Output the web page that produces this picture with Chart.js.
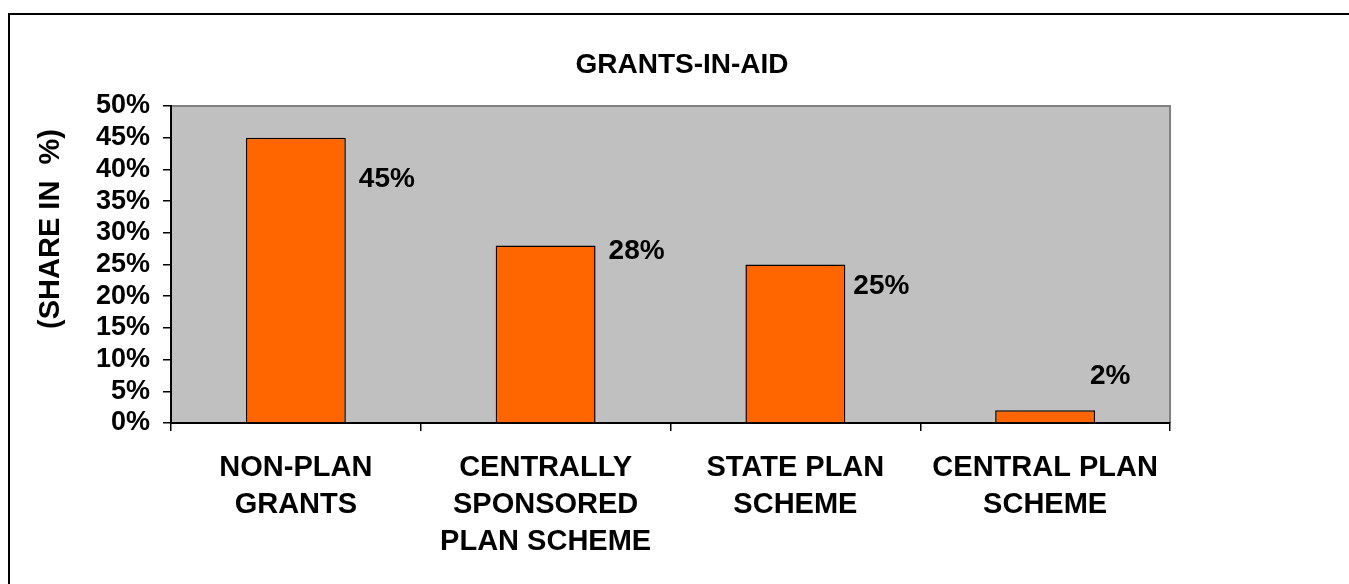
<!DOCTYPE html>
<html>
<head>
<meta charset="utf-8">
<script src="https://cdn.jsdelivr.net/npm/chart.js@4"></script>
<style>
  html, body { margin: 0; padding: 0; background: #fff; }
  #wrap { width: 1349px; height: 584px; }
</style>
</head>
<body>
<div id="wrap"><canvas id="myChart" width="1349" height="584"></canvas></div>
<script>
// Data
const categories = [
  ['NON-PLAN', 'GRANTS'],
  ['CENTRALLY', 'SPONSORED', 'PLAN SCHEME'],
  ['STATE PLAN', 'SCHEME'],
  ['CENTRAL PLAN', 'SCHEME']
];
const shares = [45, 28, 25, 2];
const yTicks = [0, 5, 10, 15, 20, 25, 30, 35, 40, 45, 50];

const FONT = "'Liberation Sans', Arial, sans-serif";
Chart.defaults.color = '#000';
Chart.defaults.font.family = FONT;

// grey plot area, grey top/right edge, outer frame and chart title
const frame = {
  id: 'frame',
  beforeDraw(chart, args, opts) {
    const { ctx, chartArea: a } = chart;
    ctx.save();
    ctx.fillStyle = '#fff';
    ctx.fillRect(0, 0, chart.width, chart.height);
    ctx.strokeStyle = '#000';
    ctx.lineWidth = 2;
    ctx.strokeRect(9, 14, chart.width + 20, chart.height + 20);
    ctx.fillStyle = '#C0C0C0';
    ctx.fillRect(a.left, a.top, a.right - a.left, a.bottom - a.top);
    ctx.strokeStyle = '#808080';
    ctx.beginPath();
    ctx.moveTo(a.left, a.top);
    ctx.lineTo(a.right, a.top);
    ctx.lineTo(a.right, a.bottom);
    ctx.stroke();

    ctx.font = 'bold 28px ' + FONT;
    ctx.fillStyle = '#000';
    ctx.textAlign = 'center';
    ctx.textBaseline = 'middle';
    ctx.fillText(opts.title, opts.titleX, opts.titleY);
    ctx.restore();
  }
};

// rotated axis title
const yTitle = {
  id: 'yTitle',
  afterDraw(chart, args, opts) {
    const ctx = chart.ctx;
    ctx.save();
    ctx.translate(opts.x, opts.y);
    ctx.rotate(-Math.PI / 2);
    ctx.font = 'bold 29px ' + FONT;
    ctx.fillStyle = '#000';
    ctx.textAlign = 'center';
    ctx.textBaseline = 'middle';
    ctx.fillText(opts.text, 0, 0);
    ctx.restore();
  }
};

// value labels beside the bars (nudged like the original)
const valueLabels = {
  id: 'valueLabels',
  afterDatasetsDraw(chart, args, opts) {
    const ctx = chart.ctx;
    const meta = chart.getDatasetMeta(0);
    ctx.save();
    ctx.font = 'bold 28px ' + FONT;
    ctx.fillStyle = '#000';
    ctx.textAlign = 'center';
    ctx.textBaseline = 'middle';
    meta.data.forEach((bar, i) => {
      const n = opts.nudge[i];
      ctx.fillText(shares[i] + '%', bar.x + n[0], bar.y + n[1]);
    });
    ctx.restore();
  }
};

const myChart = new Chart(document.getElementById('myChart'), {
  type: 'bar',
  data: {
    labels: categories,
    datasets: [{
      data: shares,
      backgroundColor: '#FF6600',
      borderColor: '#000',
      borderWidth: 1.5,
      categoryPercentage: 0.4,
      barPercentage: 1
    }]
  },
  options: {
    responsive: false,
    animation: false,
    layout: { padding: { left: 0, right: 179, top: 106, bottom: 0 } },
    plugins: {
      legend: { display: false },
      tooltip: { enabled: false },
      title: { display: false },
      frame: { title: 'GRANTS-IN-AID', titleX: 682, titleY: 65 },
      yTitle: { text: '(SHARE IN  %)', x: 51, y: 229 },
      valueLabels: { nudge: [[91, 42], [91, 6], [86, 22], [65, -34]] }
    },
    scales: {
      x: {
        grid: { drawOnChartArea: false, drawTicks: true, tickLength: 8, color: '#000', lineWidth: 1.5, offset: true },
        border: { color: '#000', width: 2 },
        ticks: {
          color: '#000',
          padding: 19,
          maxRotation: 0,
          autoSkip: false,
          font: { size: 29, weight: 'bold', lineHeight: 1.27 }
        },
        afterFit(scale) { scale.height = 161; }
      },
      y: {
        min: 0,
        max: 50,
        afterBuildTicks(scale) { scale.ticks = yTicks.map(v => ({ value: v })); },
        grid: { drawOnChartArea: false, drawTicks: true, tickLength: 8, color: '#000', lineWidth: 1.5 },
        border: { color: '#000', width: 2 },
        ticks: {
          color: '#000',
          padding: 13,
          autoSkip: false,
          font: { size: 27, weight: 'bold' },
          callback: v => v + '%'
        },
        afterFit(scale) { scale.width = 171; }
      }
    }
  },
  plugins: [frame, yTitle, valueLabels]
});
</script>
</body>
</html>
